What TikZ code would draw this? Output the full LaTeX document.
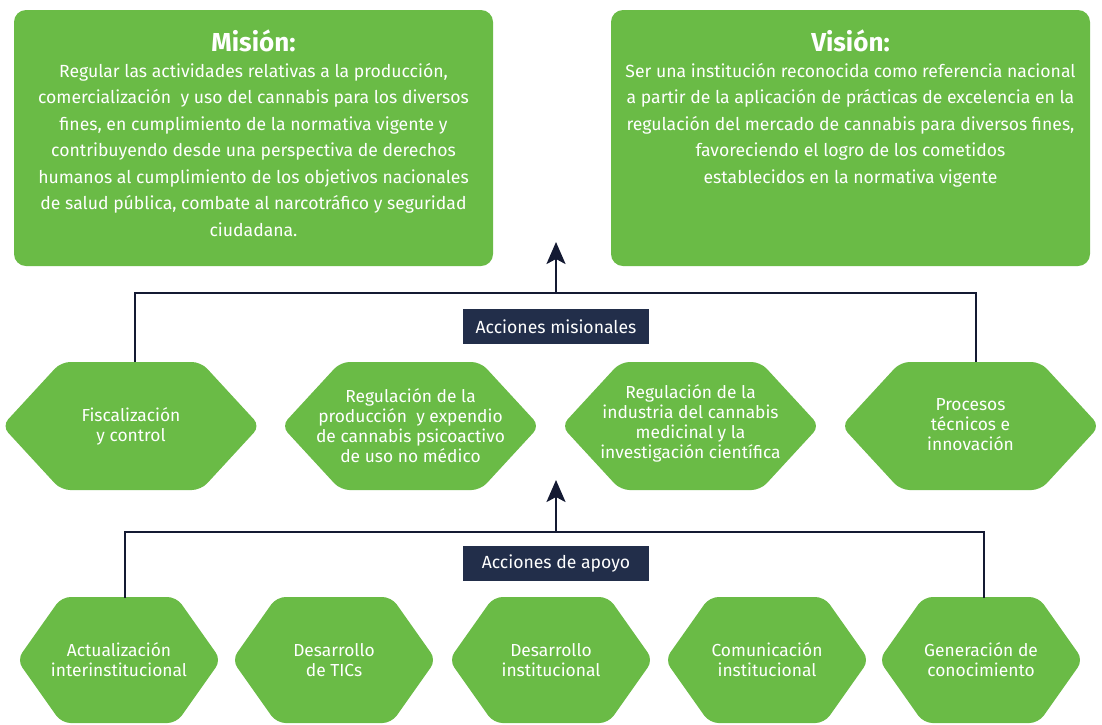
\documentclass[tikz,border=0pt]{standalone}
\usepackage{fontspec}
\setmainfont{Fira Sans}
\usetikzlibrary{arrows.meta}
\definecolor{leaf}{HTML}{6ABB46}
\definecolor{navy}{HTML}{222E4A}
\definecolor{ink}{HTML}{141A33}
% name, cx, cy, half width, slant, half height, text dy, text
\newcommand\hexa[8]{%
  \fill[leaf, rounded corners=9pt] (#2,#3-#6) -- (#2+#4-#5,#3-#6) -- (#2+#4,#3) -- (#2+#4-#5,#3+#6) -- (#2-#4+#5,#3+#6) -- (#2-#4,#3) -- (#2-#4+#5,#3-#6) -- cycle;
  \node[hextext] (#1) at (#2,#3+#7) {#8};
}
\tikzset{
  panel/.style={fill=leaf, rounded corners=12pt, inner sep=0pt, minimum width=479pt, minimum height=256pt},
  titletext/.style={text=white, font=\fontsize{26}{30}\selectfont\bfseries, inner sep=0pt},
  bodytext/.style={text=white, align=center, font=\fontsize{17.6}{26.5}\selectfont, inner sep=0pt, anchor=north},
  hextext/.style={text=white, align=center, font=\fontsize{17.4}{20}\selectfont, inner sep=0pt},
  tagbox/.style={fill=navy, text=white, font=\fontsize{17.6}{20}\selectfont, minimum width=186pt, minimum height=35pt, inner sep=0pt},
  conn/.style={draw=ink, line width=2.5pt},
  arr/.style={conn, -{Stealth[length=22pt, width=19pt, inset=5pt]}}
}
\begin{document}
\begin{tikzpicture}[x=1pt, y=-1pt]
\useasboundingbox (0,0) rectangle (1102,724);
% panels
\node[panel] (mision) at (253.5,138) {};
\node[panel] (vision) at (850.5,138) {};
\node[titletext] (mt) at (253.5,41) {Misión:};
\node[titletext] (vt) at (850.5,41) {Visión:};
\node[bodytext] (mb) at (253.5,63) {Regular las actividades relativas a la producción,\\
comercialización\ \ y uso del cannabis para los diversos\\
fines, en cumplimiento de la normativa vigente y\\
contribuyendo desde una perspectiva de derechos\\
humanos al cumplimiento de los objetivos nacionales\\
de salud pública, combate al narcotráfico y seguridad\\
ciudadana.};
\node[bodytext] (vb) at (850.5,63) {Ser una institución reconocida como referencia nacional\\
a partir de la aplicación de prácticas de excelencia en la\\
regulación del mercado de cannabis para diversos fines,\\
favoreciendo el logro de los cometidos\\
establecidos en la normativa vigente};
% row 1
\hexa{f1}{131}{426}{129}{59}{64}{0}{Fiscalización\\y control}
\hexa{f2}{410.5}{426}{129}{59}{64}{0}{Regulación de la\\producción\ \ y expendio\\de cannabis psicoactivo\\de uso no médico}
\hexa{f3}{690.5}{426}{129}{59}{64}{-2.5}{Regulación de la\\industria del cannabis\\medicinal y la\\investigación científica}
\hexa{f4}{970.5}{426}{129}{59}{64}{-1.5}{Procesos\\técnicos e\\innovación}
% row 2
\hexa{a1}{119}{660}{102}{44.5}{63}{0}{Actualización\\interinstitucional}
\hexa{a2}{334}{660}{102}{44.5}{63}{0}{Desarrollo\\de TICs}
\hexa{a3}{551}{660}{102}{44.5}{63}{0}{Desarrollo\\institucional}
\hexa{a4}{767}{660}{102}{44.5}{63}{0}{Comunicación\\institucional}
\hexa{a5}{981}{660}{102}{44.5}{63}{0}{Generación de\\conocimiento}
% connector coordinates
\coordinate (f1top) at (135,362);
\coordinate (f4top) at (976,362);
\coordinate (hub1) at (556,293);
\coordinate (tip1) at (556,242);
\coordinate (a1top) at (125,598);
\coordinate (a5top) at (984,598);
\coordinate (hub2) at (556,532);
\coordinate (tip2) at (556,480);
\draw[conn] (f1top) |- (hub1) -| (f4top);
\draw[arr] (hub1) -- (tip1);
\draw[conn] (a1top) |- (hub2) -| (a5top);
\draw[arr] (hub2) -- (tip2);
% labels
\node[tagbox] (lab1) at (556,326.5) {Acciones misionales};
\node[tagbox] (lab2) at (556,563) {Acciones de apoyo};
\end{tikzpicture}
\end{document}
